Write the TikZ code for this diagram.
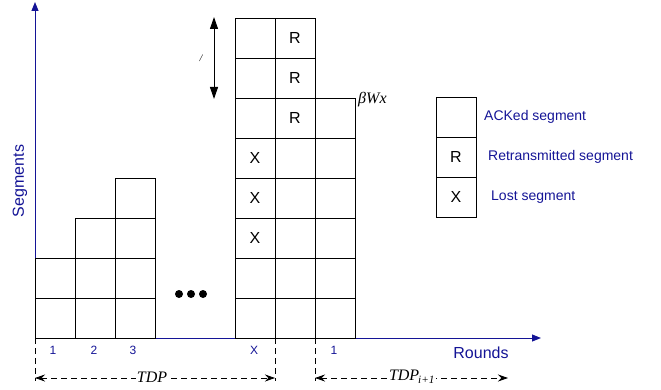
\documentclass[tikz,border=0pt]{standalone}
\usepackage{fontspec}
\setmainfont{Liberation Sans}
\newfontfamily\serifit{Liberation Serif}
\usetikzlibrary{arrows.meta}
\definecolor{navy}{RGB}{20,20,150}
\begin{document}
\begin{tikzpicture}[x=1pt,y=-1pt,
  cell/.style={draw=black,line width=0.8pt,minimum width=40pt,minimum height=40pt,inner sep=0pt,font=\fontsize{16}{16}\selectfont},
  axis/.style={draw=navy,line width=1pt,-{Triangle[length=9pt,width=7pt]}},
  ticklab/.style={text=navy,font=\fontsize{12}{12}\selectfont,inner sep=0pt},
  legtext/.style={text=navy,font=\fontsize{14}{14}\selectfont,anchor=west,inner sep=0pt},
  axlab/.style={text=navy,font=\fontsize{16}{16}\selectfont,inner sep=0pt},
  dashline/.style={draw=black,line width=0.8pt,dash pattern=on 6pt off 4pt},
  periodarrow/.style={dashline,{Stealth[length=10pt,width=7pt]}-{Stealth[length=10pt,width=7pt]}},
  mathlab/.style={font=\fontsize{16}{16}\selectfont\serifit\itshape,inner sep=1pt},
  dot/.style={circle,fill=black,minimum size=8pt,inner sep=0pt}]
\useasboundingbox (0,0) rectangle (661,390);

% axes
\coordinate (O) at (35,338);
\coordinate (ytop) at (35,2);
\coordinate (xend) at (541,338);
\draw[axis] (O) -- (ytop);
\draw[axis] (O) -- (xend);
\node[axlab] (rounds) at (481,353) {Rounds};
\node[axlab,rotate=90] (segs) at (20,181) {Segments};

% left grid
\foreach \c/\h [count=\i] in {55/2,95/3,135/4}
  \foreach \r in {1,...,\h}
    \node[cell] (L\i-\r) at (\c,{358-40*\r}) {};

% right grid
\foreach \r/\t in {1/,2/,3/X,4/X,5/X,6/,7/,8/}
  \node[cell] (A\r) at (255,{358-40*\r}) {\t};
\foreach \r/\t in {1/,2/,3/,4/,5/,6/R,7/R,8/R}
  \node[cell] (B\r) at (295,{358-40*\r}) {\t};
\foreach \r in {1,...,6}
  \node[cell] (C\r) at (335,{358-40*\r}) {};

% dots
\node[dot] (d1) at (179,294) {};
\node[dot] (d2) at (191,294) {};
\node[dot] (d3) at (203,294) {};

% tick labels
\node[ticklab] (t1) at (53,350) {1};
\node[ticklab] (t2) at (94,350) {2};
\node[ticklab] (t3) at (133,350) {3};
\node[ticklab] (tx) at (254,350) {X};
\node[ticklab] (t4) at (334,350) {1};

% period markers
\coordinate (v1a) at (35,338);  \coordinate (v1b) at (35,381);
\coordinate (v2a) at (275,338); \coordinate (v2b) at (275,381);
\coordinate (v3a) at (315,338); \coordinate (v3b) at (315,381);
\draw[dashline] (v1a) -- (v1b);
\draw[dashline] (v2a) -- (v2b);
\draw[dashline] (v3a) -- (v3b);
\coordinate (p1a) at (35,378); \coordinate (p1b) at (275,378);
\coordinate (p2a) at (315,378); \coordinate (p2b) at (508,378);
\draw[periodarrow] (p1a) -- (p1b);
\draw[periodarrow] (p2a) -- (p2b);
\node[mathlab,fill=white] (tdp) at (152,377) {TDP};
\node[mathlab,fill=white] (tdp2) at (412,377) {TDP\textsubscript{\kern-1pt i+1}};

% vertical double arrow
\coordinate (va) at (214,17);
\coordinate (vb) at (214,99);
\draw[line width=1pt,{Triangle[length=12pt,width=8pt]}-{Triangle[length=12pt,width=8pt]}] (va) -- (vb);
\node[font=\fontsize{10}{10}\selectfont\serifit\itshape] (alab) at (201,58) {/};

% beta W label
\node[mathlab,anchor=west] (bw) at (357,100) {βWx};

% legend
\node[cell] (g1) at (456,117) {};
\node[cell] (g2) at (456,157) {R};
\node[cell] (g3) at (456,197) {X};
\node[legtext] (l1) at (484,117) {ACKed segment};
\node[legtext] (l2) at (488,157) {Retransmitted segment};
\node[legtext] (l3) at (491,197) {Lost segment};
\end{tikzpicture}
\end{document}
